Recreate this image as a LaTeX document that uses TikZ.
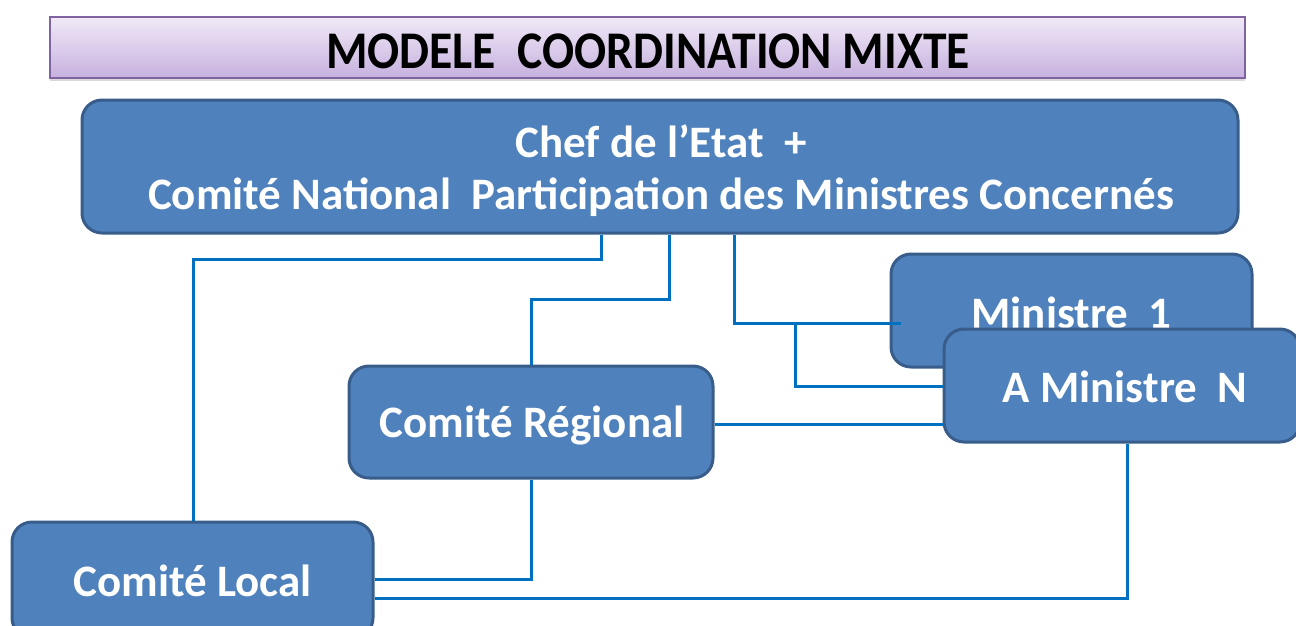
\documentclass[tikz,border=0pt]{standalone}
\usepackage{fontspec}
\setmainfont{Carlito}
\usetikzlibrary{calc,shadows}
\definecolor{boxfill}{HTML}{4F81BD}
\definecolor{boxline}{HTML}{385D8A}
\definecolor{conn}{HTML}{0070C0}
\definecolor{titletop}{HTML}{F0E9F7}
\definecolor{titlebot}{HTML}{C6B1DE}
\definecolor{titleline}{HTML}{8064A2}
\tikzset{
  bluebox/.style={draw=boxline, fill=boxfill, line width=3pt, rounded corners=20pt, inner sep=0pt},
  boxtext/.style={text=white, font=\fontsize{45}{52}\selectfont\bfseries, align=center, inner sep=0pt},
  link/.style={draw=conn, line width=3pt},
}
\begin{document}
\begin{tikzpicture}[x=1pt,y=-1pt]
\useasboundingbox (0,0) rectangle (1296,625);
\clip (0,0) rectangle (1296,625);
% title
\node[draw=titleline, line width=2pt, top color=titletop, bottom color=titlebot,
  minimum width=1195pt, minimum height=61pt, inner sep=0pt,
  drop shadow={shadow xshift=0pt, shadow yshift=-3pt, opacity=0.3}] (title) at (647.5,47.5) {};
\node[font=\fontsize{49}{50}\selectfont\bfseries, inner sep=0pt] (ttext) at (648,51)
  {\scalebox{0.97}[1.08]{MODELE\ \ COORDINATION MIXTE}};
% boxes
\node[bluebox, minimum width=1156pt, minimum height=133pt] (chef) at (660,166.5) {};
\node[boxtext] (chefT) at (661,171)
  {Chef de l’Etat\ \ +\\Comité National\ \ Participation des Ministres Concernés};
\node[bluebox, minimum width=361pt, minimum height=113pt] (min1) at (1071.5,310.5) {};
\node[boxtext] (min1T) at (1071.5,313) {Ministre\ \ 1};
\node[bluebox, minimum width=356pt, minimum height=113pt] (minN) at (1122,385.5) {};
\node[boxtext] (minNT) at (1125,387) {A Ministre\ \ N};
\node[bluebox, minimum width=364pt, minimum height=112pt] (reg) at (531,422) {};
\node[boxtext] (regT) at (532,426) {Comité Régional};
\node[bluebox, minimum width=361pt, minimum height=116pt] (loc) at (192.5,580) {};
\node[boxtext] (locT) at (192.5,581) {Comité Local};
% connectors
\coordinate (m1end) at ($(min1.west)+(11,12.5)$);
\draw[link] (chef.south -| 601,0) |- (193,259) -- (loc.north -| 193,0);
\draw[link] (chef.south -| 669,0) |- (531,299) -- (reg.north);
\draw[link] (chef.south -| 734,0) |- (m1end);
\draw[link] (795,322) |- (minN.west |- 0,386);
\draw[link] (reg.east |- 0,424) -- (minN.west |- 0,424);
\draw[link] (reg.south) |- (loc.east |- 0,579);
\draw[link] (minN.south -| 1127,0) |- (loc.east |- 0,598);
\end{tikzpicture}
\end{document}
